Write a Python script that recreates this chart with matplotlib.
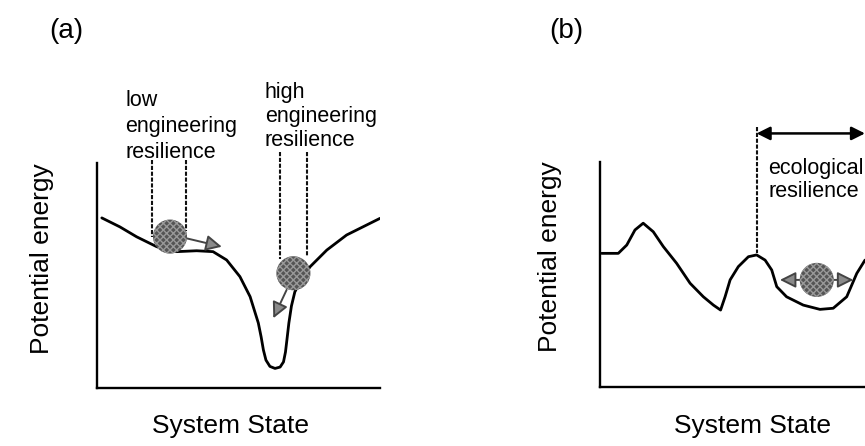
import matplotlib
matplotlib.use('Agg')
import matplotlib.pyplot as plt

plt.rcParams['font.family'] = ['Liberation Sans', 'DejaVu Sans']

# ---- data (arbitrary 0-10 units) ----
# panel (a): landscape with shallow shelf and deep narrow well
state_a = [0.17, 0.81, 1.40, 2.11, 2.82, 3.52, 4.10, 4.58, 5.05, 5.41, 5.70, 5.80,
           5.88, 5.97, 6.11, 6.29, 6.47, 6.59, 6.66, 6.71, 6.78, 6.87, 6.99, 7.21,
           7.53, 8.12, 8.82, 9.41, 10.0]
energy_a = [7.56, 7.16, 6.72, 6.28, 6.06, 6.10, 6.06, 5.69, 4.95, 4.06, 2.89, 2.27,
            1.69, 1.24, 0.96, 0.87, 0.93, 1.16, 1.60, 2.13, 2.89, 3.64, 4.27, 4.80,
            5.39, 6.13, 6.80, 7.17, 7.54]
balls_a = [(2.58, 6.73), (6.94, 5.10)]
arrows_a = [((3.17, 6.65), (4.41, 6.28)), ((6.70, 4.36), (6.23, 3.10))]
# dashed guides: (x, y_top, y_bottom)
guides_a = [(1.93, 10.13, 6.72), (3.14, 10.13, 7.00),
            (6.47, 10.50, 5.75), (7.41, 10.50, 5.84)]

# panel (b): multi-basin landscape
state_b = [0.06, 0.69, 1.01, 1.32, 1.63, 2.01, 2.39, 2.89, 3.40, 3.90, 4.28, 4.55,
           4.72, 4.91, 5.22, 5.60, 5.91, 6.23, 6.48, 6.67, 7.04, 7.67, 8.30, 8.80,
           9.31, 9.69, 10.0]
energy_b = [5.94, 5.94, 6.31, 6.98, 7.28, 6.90, 6.24, 5.50, 4.61, 4.01, 3.64, 3.42,
            4.01, 4.76, 5.35, 5.79, 5.87, 5.64, 5.20, 4.46, 4.01, 3.64, 3.45, 3.50,
            4.01, 5.05, 5.64]
ball_b = (8.18, 4.76)
rock_b = (6.79, 9.56)          # x-range of the double grey arrow
guide_b = (5.91, 11.57, 5.94)  # x, y_top, y_bottom
span_b = (5.91, 10.0, 11.27)   # x0, x1, y of ecological resilience arrow

W, H = 865, 446
fig = plt.figure(figsize=(W / 100, H / 100), dpi=100)


def box(l, t, r, b):
    return [l / W, 1 - b / H, (r - l) / W, (b - t) / H]


def ftext(x, y, s, **kw):
    fig.text(x / W, 1 - y / H, s, **kw)


ax_a = fig.add_axes(box(97, 163, 380, 388))
ax_b = fig.add_axes(box(600, 162, 865, 387))

for ax in (ax_a, ax_b):
    ax.set_xlim(0, 10)
    ax.set_ylim(0, 10)
    ax.set_xticks([]); ax.set_yticks([])
    ax.spines['top'].set_visible(False)
    ax.spines['right'].set_visible(False)
    ax.spines['left'].set_linewidth(1.7)
    ax.spines['bottom'].set_linewidth(1.7)

dash = (0, (2.0, 0.8))
ball_kw = dict(s=600, c='#555555', edgecolors='#999999', linewidths=0,
               hatch='xxxxx', zorder=5)
grey_arrow = dict(arrowstyle='-|>', mutation_scale=24, lw=1.4,
                  ec='#444444', fc='#8a8a8a', shrinkA=0, shrinkB=0)

# ---- panel (a) ----
ax_a.plot(state_a, energy_a, color='black', lw=2.0, solid_joinstyle='round',
          solid_capstyle='round')
for x, y0, y1 in guides_a:
    ax_a.plot([x, x], [y0, y1], color='#111111', lw=1.5, linestyle=dash,
              clip_on=False)
for start, end in arrows_a:
    ax_a.annotate('', xy=end, xytext=start, arrowprops=grey_arrow, zorder=4)
for x, y in balls_a:
    ax_a.scatter([x], [y], **ball_kw)

ftext(125, 90, 'low\nengineering\nresilience', fontsize=15.5, va='top',
      ha='left', linespacing=1.3)
ftext(265, 82, 'high\nengineering\nresilience', fontsize=15.5, va='top',
      ha='left', linespacing=1.2)

# ---- panel (b) ----
ax_b.plot(state_b, energy_b, color='black', lw=2.0, solid_joinstyle='round',
          solid_capstyle='round')
gx, gy0, gy1 = guide_b
ax_b.plot([gx, gx], [gy0, gy1], color='#111111', lw=1.5, linestyle=dash,
          clip_on=False)
x0, x1, ys = span_b
ax_b.annotate('', xy=(x1, ys), xytext=(x0, ys), annotation_clip=False,
              arrowprops=dict(arrowstyle='<|-|>', mutation_scale=20, lw=1.8,
                              color='black', shrinkA=0, shrinkB=0))
bx, by = ball_b
ax_b.annotate('', xy=(rock_b[0], by), xytext=(bx, by), arrowprops=grey_arrow)
ax_b.annotate('', xy=(rock_b[1], by), xytext=(bx, by), arrowprops=grey_arrow)
ax_b.scatter([bx], [by], **ball_kw)

ftext(768, 158, 'ecological\nresilience', fontsize=15.5, va='top', ha='left',
      linespacing=1.1)

# ---- labels ----
ftext(66, 31, '(a)', fontsize=20, ha='center', va='center')
ftext(566, 31, '(b)', fontsize=20, ha='center', va='center')
ftext(42, 259, 'Potential energy', fontsize=19, rotation=90,
      ha='center', va='center')
ftext(550, 257, 'Potential energy', fontsize=19, rotation=90,
      ha='center', va='center')
ftext(231, 433, 'System State', fontsize=19, ha='center', va='baseline')
ftext(753, 433, 'System State', fontsize=19, ha='center', va='baseline')

fig.savefig('out.png', dpi=100)
